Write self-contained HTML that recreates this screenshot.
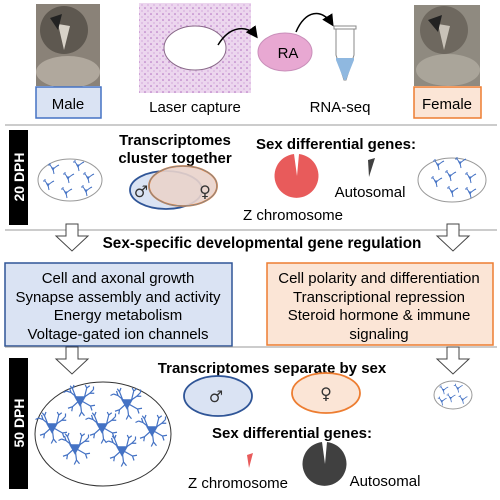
<!DOCTYPE html>
<html><head><meta charset="utf-8"><style>
html,body{margin:0;padding:0;background:#fff}
svg{display:block;font-family:"Liberation Sans",Arial,sans-serif}
.sym{font-family:"DejaVu Sans",sans-serif;fill:#333}
</style></head><body>
<svg width="500" height="500" viewBox="0 0 500 500">
<defs>
<marker id="ah" markerWidth="8" markerHeight="8" refX="6" refY="4" orient="auto"><path d="M0,0 L8,4 L0,8 z" fill="#000"/></marker>
<g id="nsmall"><path d="M0,0 l-3,-4 M0,0 l4,-3 M0,0 l1,5 M-3,-4 l-2,0 M-3,-4 l0,-2 M4,-3 l2,-1" stroke="#4472c4" stroke-width="1" fill="none"/><path d="M-2,-1.5 L2,-1.5 L0,2 z" fill="#4472c4"/></g>
<g id="nbig"><path d="M0,0 l-12,-10 l-6,-2 M-12,-10 l-2,-6 M-18,-12 l-4,2 M0,0 l13,-9 l5,-5 M13,-9 l6,0 M18,-14 l0,-4 M0,0 l-10,9 l-6,2 M-10,9 l-1,6 M0,0 l2,16 l-3,6 M2,16 l4,5 M0,0 l14,8 l6,-1 M14,8 l2,6 M-6,-5 l-4,-10 l-3,-4 M-10,-15 l2,-5 M6,-4 l3,-12 l-2,-4 M9,-16 l4,-3" stroke="#4472c4" stroke-width="1.6" fill="none"/><path d="M-8,-5 L8,-5 L0,9 z" fill="#4472c4"/></g>
<g id="harrow"><path d="M-6,0 L6,0 L6,12 L16,12 L0,27 L-16,12 L-6,12 z" fill="#fff" stroke="#444" stroke-width="1"/></g>
<pattern id="dots" width="6" height="6" patternUnits="userSpaceOnUse"><rect width="6" height="6" fill="#ecd6ee"/><circle cx="1" cy="2" r="0.8" fill="#b06cbf"/><circle cx="4" cy="5" r="0.6" fill="#c48bd0"/></pattern>
</defs>

<g>
<rect x="36" y="4" width="64" height="82" fill="#8a8278"/>
<ellipse cx="68" cy="72" rx="32" ry="16" fill="#b0a89d"/>
<ellipse cx="64" cy="30" rx="24" ry="24" fill="#5e5850"/>
<path d="M58,24 L64,50 L70,26 z" fill="#d8d2c8"/>
<path d="M50,18 L62,14 L58,30 z" fill="#222"/>
</g>
<rect x="36" y="87" width="65" height="31" fill="#dae3f3" stroke="#4472c4" stroke-width="1.5"/>
<text x="68" y="109" font-size="15" text-anchor="middle">Male</text>

<g>
<rect x="139" y="3" width="112" height="90" fill="url(#dots)"/>
<ellipse cx="195" cy="48" rx="31" ry="22" fill="#fff" stroke="#8a6a8a"/>
</g>
<path d="M218,45 C230,25 248,25 256,36" stroke="#000" stroke-width="1.5" fill="none" marker-end="url(#ah)"/>
<ellipse cx="285" cy="52" rx="27" ry="19" fill="#e8a8d2" stroke="#c98fba"/>
<text x="288" y="58" font-size="15" text-anchor="middle">RA</text>
<path d="M296,32 C305,10 322,8 332,24" stroke="#000" stroke-width="1.5" fill="none" marker-end="url(#ah)"/>
<g>
<rect x="334" y="26" width="22" height="3" fill="#fff" stroke="#888"/>
<path d="M336,29 L354,29 L354,55 L346,80 L344,80 L336,55 z" fill="#fff" stroke="#888"/>
<path d="M336,58 L354,58 L354,60 L346,80 L344,80 L336,60 z" fill="#8fb8e0"/>
</g>
<text x="195" y="112" font-size="15" text-anchor="middle">Laser capture</text>
<text x="340" y="112" font-size="15" text-anchor="middle">RNA-seq</text>

<g>
<rect x="414" y="5" width="66" height="81" fill="#8f8a80"/>
<ellipse cx="448" cy="70" rx="32" ry="16" fill="#aaa59a"/>
<ellipse cx="444" cy="30" rx="24" ry="24" fill="#6e685f"/>
<path d="M438,24 L444,50 L450,26 z" fill="#c8c2b8"/>
<path d="M428,20 L442,15 L438,32 z" fill="#222"/>
</g>
<rect x="414" y="87" width="67" height="31" fill="#fbe5d6" stroke="#ed7d31" stroke-width="1.5"/>
<text x="447" y="109" font-size="15" text-anchor="middle">Female</text>

<line x1="5" y1="125" x2="497" y2="125" stroke="#999"/>

<rect x="9" y="130" width="19" height="95" fill="#000"/>
<text transform="translate(24,177) rotate(-90)" font-size="14" font-weight="bold" fill="#fff" text-anchor="middle">20 DPH</text>
<g>
<ellipse cx="70" cy="180" rx="32" ry="21" fill="#fff" stroke="#999"/>
<use href="#nsmall" x="53" y="169"/><use href="#nsmall" x="78" y="166"/><use href="#nsmall" x="68" y="178"/><use href="#nsmall" x="88" y="178"/><use href="#nsmall" x="48" y="185"/><use href="#nsmall" x="66" y="193"/><use href="#nsmall" x="86" y="191"/>
</g>
<text x="175" y="145" font-size="15" font-weight="bold" text-anchor="middle">Transcriptomes</text>
<text x="175" y="163" font-size="15" font-weight="bold" text-anchor="middle">cluster together</text>
<ellipse cx="166" cy="190" rx="36" ry="19" fill="#dae3f3" stroke="#2f5597" stroke-width="1.8"/>
<ellipse cx="183" cy="186" rx="34" ry="20" fill="#e9d3cb" fill-opacity="0.9" stroke="#ed7d31" stroke-width="1.8"/>
<ellipse cx="183" cy="186" rx="34" ry="20" fill="none" stroke="#888" stroke-width="1"/>
<text x="141" y="197" font-size="16" class="sym" text-anchor="middle">♂</text>
<text x="205" y="197" font-size="16" class="sym" text-anchor="middle">♀</text>
<text x="336" y="149" font-size="15" font-weight="bold" text-anchor="middle">Sex differential genes:</text>
<path d="M297,176 L299,154 A22,22 0 1 1 294,154 z" fill="#e85b5b"/>
<path d="M368,160 L375,158 L369,177 z" fill="#404040"/>
<text x="370" y="197" font-size="15" text-anchor="middle">Autosomal</text>
<text x="293" y="220" font-size="15" text-anchor="middle">Z chromosome</text>
<g>
<ellipse cx="452" cy="180" rx="34" ry="22" fill="#fff" stroke="#999"/>
<use href="#nsmall" x="438" y="165"/><use href="#nsmall" x="460" y="163"/><use href="#nsmall" x="450" y="176"/><use href="#nsmall" x="470" y="178"/><use href="#nsmall" x="436" y="182"/><use href="#nsmall" x="452" y="192"/><use href="#nsmall" x="470" y="193"/>
</g>

<line x1="5" y1="230" x2="497" y2="230" stroke="#999"/>
<use href="#harrow" x="72" y="224"/>
<use href="#harrow" x="453" y="224"/>
<text x="262" y="248" font-size="15.3" font-weight="bold" text-anchor="middle">Sex-specific developmental gene regulation</text>

<rect x="5" y="263" width="227" height="83" fill="#dae3f3" stroke="#2f5597" stroke-width="1.5"/>
<g font-size="15" text-anchor="middle">
<text x="118" y="283">Cell and axonal growth</text>
<text x="118" y="302">Synapse assembly and activity</text>
<text x="118" y="320">Energy metabolism</text>
<text x="118" y="339">Voltage-gated ion channels</text>
</g>
<rect x="267" y="263" width="226" height="82" fill="#fbe5d6" stroke="#ed7d31" stroke-width="1.5"/>
<g font-size="15" text-anchor="middle">
<text x="379" y="283">Cell polarity and differentiation</text>
<text x="379" y="302">Transcriptional repression</text>
<text x="379" y="320">Steroid hormone &amp; immune</text>
<text x="379" y="339">signaling</text>
</g>

<line x1="5" y1="347" x2="497" y2="347" stroke="#999"/>
<use href="#harrow" x="72" y="347"/>
<use href="#harrow" x="453" y="347"/>

<rect x="9" y="358" width="19" height="131" fill="#000"/>
<text transform="translate(24,423) rotate(-90)" font-size="14" font-weight="bold" fill="#fff" text-anchor="middle">50 DPH</text>
<text x="272" y="373" font-size="15" font-weight="bold" text-anchor="middle">Transcriptomes separate by sex</text>
<g>
<ellipse cx="103" cy="434" rx="68" ry="52" fill="#fff" stroke="#333"/>
<g transform="translate(80,400) scale(0.75)"><use href="#nbig"/></g>
<g transform="translate(127,403) scale(0.75)"><use href="#nbig"/></g>
<g transform="translate(52,427) scale(0.75)"><use href="#nbig"/></g>
<g transform="translate(102,427) scale(0.75)"><use href="#nbig"/></g>
<g transform="translate(152,430) scale(0.75)"><use href="#nbig"/></g>
<g transform="translate(75,448) scale(0.75)"><use href="#nbig"/></g>
<g transform="translate(122,450) scale(0.75)"><use href="#nbig"/></g>
</g>
<ellipse cx="218" cy="396" rx="34" ry="20" fill="#dae3f3" stroke="#2f5597" stroke-width="1.8"/>
<text x="216" y="402" font-size="16" class="sym" text-anchor="middle">♂</text>
<ellipse cx="326" cy="393" rx="34" ry="20" fill="#fbe5d6" stroke="#ed7d31" stroke-width="1.8"/>
<text x="326" y="399" font-size="16" class="sym" text-anchor="middle">♀</text>
<g>
<ellipse cx="453" cy="395" rx="19" ry="14" fill="#fff" stroke="#999"/>
<g transform="translate(453,395) scale(0.8)"><use href="#nsmall" x="-12" y="-6"/><use href="#nsmall" x="6" y="-8"/><use href="#nsmall" x="-3" y="4"/><use href="#nsmall" x="12" y="6"/><use href="#nsmall" x="-14" y="8"/></g>
</g>
<text x="292" y="438" font-size="15" font-weight="bold" text-anchor="middle">Sex differential genes:</text>
<path d="M247,455 L253,453 L249,468 z" fill="#e85b5b"/>
<path d="M325,464 L327,442 A22,22 0 1 1 322,442 z" fill="#404040"/>
<text x="238" y="488" font-size="15" text-anchor="middle">Z chromosome</text>
<text x="385" y="486" font-size="15" text-anchor="middle">Autosomal</text>
</svg>
</body></html>
